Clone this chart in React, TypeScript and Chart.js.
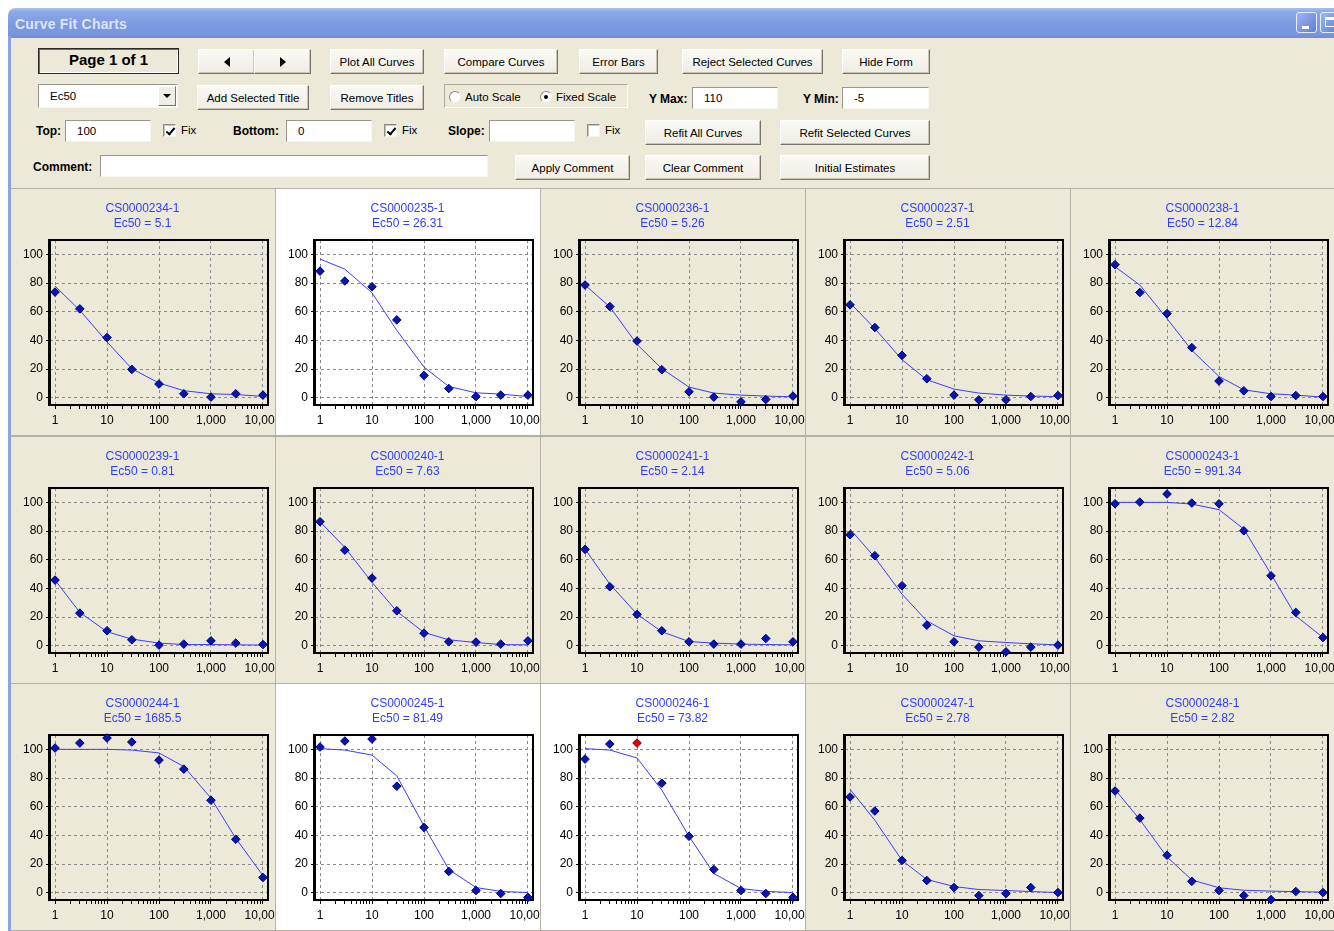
import React, { useEffect, useRef } from 'react';
import { Chart, registerables } from 'chart.js';
Chart.register(...registerables);

// ---------- data ----------
const concentrations = [1, 3, 10, 30, 100, 300, 1000, 3000, 10000];
const xMajorTicks = [1, 10, 100, 1000, 10000];
const xTickLabels = ['1', '10', '100', '1,000', '10,000'];
const xMinorTicks = [2, 3, 4, 5, 6, 7, 8, 9, 20, 30, 40, 50, 60, 70, 80, 90, 200, 300, 400, 500, 600, 700, 800, 900, 2000, 3000, 4000, 5000, 6000, 7000, 8000, 9000];
const yTicks = [0, 20, 40, 60, 80, 100];
const yMin = -5;
const yMax = 110;

const compoundIds = ['CS0000234-1', 'CS0000235-1', 'CS0000236-1', 'CS0000237-1', 'CS0000238-1', 'CS0000239-1', 'CS0000240-1', 'CS0000241-1', 'CS0000242-1', 'CS0000243-1', 'CS0000244-1', 'CS0000245-1', 'CS0000246-1', 'CS0000247-1', 'CS0000248-1'];
const ec50Values = ['5.1', '26.31', '5.26', '2.51', '12.84', '0.81', '7.63', '2.14', '5.06', '991.34', '1685.5', '81.49', '73.82', '2.78', '2.82'];
const selectedPanels = [1, 11, 12];

const obs234 = [73.7, 62, 42, 19.8, 9.6, 2.8, 0.5, 2.8, 1.9];
const fit234 = [77.9, 61, 39, 20.3, 10.3, 5, 2.8, 2.3, 1];
const obs235 = [88.3, 81.4, 77.4, 54.3, 15.6, 6.5, 0.9, 1.9, 1.9];
const fit235 = [96.7, 89.7, 73.2, 47, 21.4, 7.9, 3.5, 2.6, 0.9];
const obs236 = [78.6, 63.6, 39.6, 19.6, 4.2, 0.5, -2.8, -1.2, 1.2];
const fit236 = [78.6, 63.4, 37.3, 20.3, 7.5, 3.3, 1.9, 1.2, 0.7];
const obs237 = [64.8, 49, 29.6, 13.3, 1.9, -1.4, -1.4, 0.9, 1.6];
const fit237 = [66.2, 48.3, 26.6, 12.6, 6.1, 3.3, 1.9, 1.2, 0.9];
const obs238 = [92.8, 73.4, 58.7, 35, 11.7, 4.9, 0.9, 1.6, 0.9];
const fit238 = [91.4, 78.6, 55.2, 33.1, 14.9, 5.6, 2.8, 1.9, 0.5];
const obs239 = [45.8, 22.8, 10.5, 4.2, 0.5, 1.2, 3.5, 1.9, 0.9];
const fit239 = [45.8, 23.3, 9.8, 4.7, 1.9, 0.9, 0.9, 0.7, 0.5];
const obs240 = [86.5, 66.7, 47.2, 24.4, 8.8, 2.8, 2.6, 1.2, 3.5];
const fit240 = [86.5, 68.6, 44.2, 24, 9.3, 4.2, 2.3, 0.9, 0.7];
const obs241 = [67.2, 41.2, 21.9, 10.5, 2.8, 1.2, 1.2, 5.1, 2.8];
const fit241 = [67.4, 43, 22.1, 9.8, 3, 1.9, 1.2, 0.9, 0.7];
const obs242 = [77.4, 62.8, 41.9, 14.4, 2.8, -0.9, -4.2, -0.9, 0.5];
const fit242 = [81.4, 61.6, 36, 17.4, 7, 3.5, 2.3, 1.4, 0.7];
const obs243 = [99, 100.2, 105.8, 99.5, 99, 80.2, 48.8, 23.3, 5.8];
const fit243 = [100, 100, 100, 98.8, 94.9, 81.4, 50, 20.9, 5.8];
const obs244 = [100.9, 104.4, 107.9, 105.1, 92.5, 86.2, 64.5, 37.3, 10.7];
const fit244 = [100, 100, 100, 99.5, 97.5, 88, 66, 38, 12];
const obs245 = [101.6, 105.8, 107.2, 74.3, 45.6, 14.9, 1.6, -0.5, -3.2];
const fit245 = [100.5, 99.5, 96, 81.5, 46.5, 16.3, 3.7, 1, 0.2];
const obs246 = [93.2, 103.7, 104.4, 76.4, 39.4, 16.3, 1.6, -0.5, -3.2];
const fit246 = [100.5, 99.5, 94, 71.6, 39.4, 13.5, 3, 1, 0.2];
const obs247 = [66.8, 57, 22.6, 8.6, 3.7, -1.9, -0.5, 3.7, 0.2];
const fit247 = [72.2, 50.6, 22.6, 9.3, 4.4, 2.3, 1.6, 0.9, 0.2];
const obs248 = [71, 52.1, 26.2, 8, 1.6, -1.9, -4.7, 0.9, 0.2];
const fit248 = [72, 51, 25, 9, 3.5, 1.8, 1.2, 0.8, 0.5];
const rejected246 = [2];

const observedSeries = [obs234, obs235, obs236, obs237, obs238, obs239, obs240, obs241, obs242, obs243, obs244, obs245, obs246, obs247, obs248];
const fittedSeries = [fit234, fit235, fit236, fit237, fit238, fit239, fit240, fit241, fit242, fit243, fit244, fit245, fit246, fit247, fit248];
const rejectedPoints: number[][] = [[], [], [], [], [], [], [], [], [], [], [], [], rejected246, [], []];

// ---------- style ----------
const BEIGE = '#ECE9D8';
const UI_FONT = '"Liberation Sans", Arial, sans-serif';
const PANEL_W = 265;
const PANEL_H = 247;
const CANVAS_W = 300;
const PLOT_LEFT = 40;
const PLOT_RIGHT = 258;
const PAD_LEFT = 7;

const framePlugin = {
  id: 'plotFrame',
  beforeDatasetsDraw(chart: any) {
    const { ctx, chartArea: a } = chart;
    ctx.save();
    ctx.strokeStyle = '#000';
    ctx.lineWidth = 2;
    ctx.strokeRect(a.left, a.top, a.right - a.left, a.bottom - a.top);
    ctx.lineWidth = 3;
    ctx.beginPath();
    ctx.moveTo(a.left - 0.5, a.top - 1);
    ctx.lineTo(a.left - 0.5, a.bottom + 1);
    ctx.stroke();
    ctx.restore();
  },
};

function buildConfig(i: number): any {
  const obs = observedSeries[i];
  const fit = fittedSeries[i];
  const rej = rejectedPoints[i];
  const tickFont = { family: UI_FONT, size: 12 };
  return {
    type: 'scatter',
    data: {
      datasets: [
        {
          type: 'scatter',
          data: concentrations.map((x, k) => ({ x, y: obs[k] })),
          pointStyle: 'rectRot',
          pointRadius: 4.3,
          pointBackgroundColor: obs.map((_, k) => (rej.includes(k) ? '#E80000' : '#0A14B4')),
          pointBorderColor: obs.map((_, k) => (rej.includes(k) ? '#700000' : '#00006E')),
          pointBorderWidth: 1,
          clip: false,
          order: 1,
        },
        {
          type: 'line',
          data: concentrations.map((x, k) => ({ x, y: fit[k] })),
          borderColor: '#3B3BFF',
          borderWidth: 1,
          pointRadius: 0,
          tension: 0,
          fill: false,
          order: 2,
        },
      ],
    },
    options: {
      animation: false,
      responsive: false,
      events: [],
      layout: { padding: { left: PAD_LEFT, right: CANVAS_W - PLOT_RIGHT, top: 0, bottom: 0 } },
      plugins: {
        legend: { display: false },
        tooltip: { enabled: false },
        title: {
          display: true,
          text: [compoundIds[i], 'Ec50 = ' + ec50Values[i]],
          color: '#2F3DFF',
          font: { family: UI_FONT, size: 12, weight: 'normal', lineHeight: 1.25 },
          padding: { top: 13, bottom: 9 },
        },
      },
      scales: {
        x: {
          type: 'logarithmic',
          min: 0.8,
          max: 12500,
          afterBuildTicks: (s: any) => {
            s.ticks = [...xMajorTicks, ...xMinorTicks].sort((a, b) => a - b).map((v) => ({ value: v }));
          },
          afterFit: (s: any) => {
            s.height = 30;
          },
          ticks: {
            autoSkip: false,
            maxRotation: 0,
            minRotation: 0,
            padding: 4,
            color: '#000',
            font: tickFont,
            callback: (v: any) => {
              const k = xMajorTicks.indexOf(Number(v));
              return k >= 0 ? xTickLabels[k] : '';
            },
          },
          grid: {
            color: (c: any) => (c.tick && xMajorTicks.includes(c.tick.value) ? '#8A8A8A' : 'rgba(0,0,0,0)'),
            tickColor: '#000',
            tickLength: 4,
            lineWidth: 1,
          },
          border: { display: false, dash: [3, 3] },
        },
        y: {
          min: yMin,
          max: yMax,
          afterBuildTicks: (s: any) => {
            s.ticks = yTicks.map((v) => ({ value: v }));
          },
          afterFit: (s: any) => {
            s.width = PLOT_LEFT - PAD_LEFT;
          },
          ticks: { padding: 3, color: '#000', font: tickFont },
          grid: { color: '#8A8A8A', tickColor: '#000', tickLength: 4, lineWidth: 1 },
          border: { display: false, dash: [3, 3] },
        },
      },
    },
    plugins: [framePlugin],
  };
}

function CurvePanel({ index, left, top }: { index: number; left: number; top: number }) {
  const ref = useRef<HTMLCanvasElement>(null);
  useEffect(() => {
    const chart = new Chart(ref.current as HTMLCanvasElement, buildConfig(index));
    return () => chart.destroy();
  }, [index]);
  const selected = selectedPanels.includes(index);
  return (
    <div
      style={{
        position: 'absolute',
        left,
        top,
        width: PANEL_W + 1,
        height: PANEL_H + 1,
        boxSizing: 'border-box',
        border: '1px solid #B4B1A4',
        background: selected ? '#FFFFFF' : BEIGE,
        overflow: 'hidden',
      }}
    >
      <canvas ref={ref} width={CANVAS_W} height={PANEL_H} style={{ position: 'absolute', left: -1, top: -1 }} />
    </div>
  );
}

// ---------- XP-ish form controls ----------
function Button({ x, y, w, h = 25, children }: any) {
  return (
    <div
      style={{
        position: 'absolute',
        left: x,
        top: y,
        width: w,
        height: h,
        boxSizing: 'border-box',
        background: 'linear-gradient(#FAF9F4, #EFEDE4)',
        border: '1px solid',
        borderColor: '#FFFFFF #75736A #75736A #FFFFFF',
        boxShadow: 'inset -1px -1px 0 #C8C5B6',
        display: 'flex',
        alignItems: 'center',
        justifyContent: 'center',
        font: `11.5px ${UI_FONT}`,
        color: '#000',
        whiteSpace: 'nowrap',
      }}
    >
      {children}
    </div>
  );
}

function TextBox({ x, y, w, h = 22, value = '' }: any) {
  return (
    <div
      style={{
        position: 'absolute',
        left: x,
        top: y,
        width: w,
        height: h,
        boxSizing: 'border-box',
        background: '#FFFFFF',
        border: '1px solid',
        borderColor: '#9A978A #F6F5F0 #F6F5F0 #9A978A',
        display: 'flex',
        alignItems: 'center',
        paddingLeft: 11,
        font: `11.5px ${UI_FONT}`,
        color: '#000',
      }}
    >
      {value}
    </div>
  );
}

function Label({ x, y, children }: any) {
  return (
    <div
      style={{
        position: 'absolute',
        left: x,
        top: y,
        font: `bold 12px ${UI_FONT}`,
        color: '#000',
        whiteSpace: 'nowrap',
        lineHeight: '14px',
      }}
    >
      {children}
    </div>
  );
}

function CheckBox({ x, y, checked, label }: any) {
  return (
    <>
      <div
        style={{
          position: 'absolute',
          left: x,
          top: y,
          width: 13,
          height: 13,
          boxSizing: 'border-box',
          background: '#FFFFFF',
          border: '1px solid',
          borderColor: '#8F8C80 #F4F3EE #F4F3EE #8F8C80',
          boxShadow: 'inset 1px 1px 0 #C9C6B8',
        }}
      >
        {checked && (
          <div
            style={{
              position: 'absolute',
              left: 3.5,
              top: 0.5,
              width: 3,
              height: 7,
              borderRight: '2px solid #000',
              borderBottom: '2px solid #000',
              transform: 'rotate(40deg)',
            }}
          />
        )}
      </div>
      <div style={{ position: 'absolute', left: x + 18, top: y - 1, font: `11.5px ${UI_FONT}`, color: '#000', lineHeight: '14px' }}>{label}</div>
    </>
  );
}

function Radio({ x, y, checked, label }: any) {
  return (
    <>
      <div
        style={{
          position: 'absolute',
          left: x,
          top: y,
          width: 12,
          height: 12,
          boxSizing: 'border-box',
          borderRadius: '50%',
          background: '#FFFFFF',
          border: '1px solid',
          borderColor: '#8F8C80 #F4F3EE #F4F3EE #8F8C80',
        }}
      >
        {checked && (
          <div style={{ position: 'absolute', left: 3, top: 3, width: 4, height: 4, borderRadius: '50%', background: '#000' }} />
        )}
      </div>
      <div style={{ position: 'absolute', left: x + 16, top: y - 1, font: `11.5px ${UI_FONT}`, color: '#000', lineHeight: '14px' }}>{label}</div>
    </>
  );
}

function Triangle({ dir }: { dir: 'left' | 'right' | 'down' }) {
  const s: any = { width: 0, height: 0, borderStyle: 'solid' };
  if (dir === 'left') Object.assign(s, { borderWidth: '5px 6px 5px 0', borderColor: 'transparent #000 transparent transparent' });
  if (dir === 'right') Object.assign(s, { borderWidth: '5px 0 5px 6px', borderColor: 'transparent transparent transparent #000' });
  if (dir === 'down') Object.assign(s, { borderWidth: '4px 4px 0 4px', borderColor: '#000 transparent transparent transparent' });
  return <div style={s} />;
}

function Form() {
  return (
    <>
      {/* Row A */}
      <div
        style={{
          position: 'absolute',
          left: 38,
          top: 48,
          width: 141,
          height: 26,
          boxSizing: 'border-box',
          border: '1px solid #2A2A2A',
          boxShadow: 'inset 1px 1px 0 #6E6C64, inset -1px -1px 0 #FFFFFF',
          display: 'flex',
          alignItems: 'center',
          justifyContent: 'center',
          font: `bold 15px ${UI_FONT}`,
          color: '#000',
          paddingBottom: 4,
        }}
      >
        Page 1 of 1
      </div>
      <Button x={198} y={49} w={57}>
        <Triangle dir="left" />
      </Button>
      <Button x={254} y={49} w={57}>
        <Triangle dir="right" />
      </Button>
      <Button x={330} y={49} w={94}>Plot All Curves</Button>
      <Button x={444} y={49} w={114}>Compare Curves</Button>
      <Button x={579} y={49} w={79}>Error Bars</Button>
      <Button x={682} y={49} w={141}>Reject Selected Curves</Button>
      <Button x={842} y={49} w={88}>Hide Form</Button>

      {/* Row B */}
      <div
        style={{
          position: 'absolute',
          left: 38,
          top: 84,
          width: 140,
          height: 24,
          boxSizing: 'border-box',
          background: '#FFFFFF',
          border: '1px solid',
          borderColor: '#9A978A #F6F5F0 #F6F5F0 #9A978A',
          font: `11.5px ${UI_FONT}`,
          display: 'flex',
          alignItems: 'center',
          paddingLeft: 11,
        }}
      >
        Ec50
        <div
          style={{
            position: 'absolute',
            right: 1,
            top: 1,
            width: 18,
            height: 20,
            boxSizing: 'border-box',
            background: '#EFEDE4',
            border: '1px solid',
            borderColor: '#FFFFFF #75736A #75736A #FFFFFF',
            display: 'flex',
            alignItems: 'center',
            justifyContent: 'center',
          }}
        >
          <Triangle dir="down" />
        </div>
      </div>
      <Button x={197} y={85} w={112}>Add Selected Title</Button>
      <Button x={330} y={85} w={94}>Remove Titles</Button>
      <div
        style={{
          position: 'absolute',
          left: 444,
          top: 84,
          width: 184,
          height: 24,
          boxSizing: 'border-box',
          border: '1px solid',
          borderColor: '#ACA899 #FFFFFF #FFFFFF #ACA899',
        }}
      />
      <Radio x={449} y={91} checked={false} label="Auto Scale" />
      <Radio x={540} y={91} checked={true} label="Fixed Scale" />
      <Label x={649} y={92}>Y Max:</Label>
      <TextBox x={692} y={87} w={86} value="110" />
      <Label x={803} y={92}>Y Min:</Label>
      <TextBox x={842} y={87} w={87} value="-5" />

      {/* Row C */}
      <Label x={36} y={124}>Top:</Label>
      <TextBox x={65} y={120} w={86} value="100" />
      <CheckBox x={163} y={124} checked={true} label="Fix" />
      <Label x={233} y={124}>Bottom:</Label>
      <TextBox x={286} y={120} w={86} value="0" />
      <CheckBox x={384} y={124} checked={true} label="Fix" />
      <Label x={448} y={124}>Slope:</Label>
      <TextBox x={489} y={120} w={86} value="" />
      <CheckBox x={587} y={124} checked={false} label="Fix" />
      <Button x={645} y={120} w={116}>Refit All Curves</Button>
      <Button x={780} y={120} w={150}>Refit Selected Curves</Button>

      {/* Row D */}
      <Label x={33} y={160}>Comment:</Label>
      <TextBox x={100} y={155} w={388} value="" />
      <Button x={515} y={155} w={115}>Apply Comment</Button>
      <Button x={645} y={155} w={116}>Clear Comment</Button>
      <Button x={780} y={155} w={150}>Initial Estimates</Button>
    </>
  );
}

export default function App() {
  return (
    <div style={{ position: 'fixed', left: 0, top: 0, width: 1334, height: 931, overflow: 'hidden', background: '#FFFFFF' }}>
      {/* window body */}
      <div style={{ position: 'absolute', left: 8, top: 8, width: 1340, height: 940, background: BEIGE, borderTopLeftRadius: 8 }} />
      {/* title bar */}
      <div
        style={{
          position: 'absolute',
          left: 8,
          top: 8,
          width: 1340,
          height: 30,
          borderTopLeftRadius: 8,
          background: 'linear-gradient(#A9C0F0 0%, #8CA8E8 12%, #7E9CE2 50%, #7895DE 88%, #6F8CD8 100%)',
        }}
      />
      <div
        style={{
          position: 'absolute',
          left: 15,
          top: 15,
          font: `bold 14px ${UI_FONT}`,
          color: '#DCE5F9',
          lineHeight: '18px',
          letterSpacing: 0.2,
        }}
      >
        Curve Fit Charts
      </div>
      <div
        style={{
          position: 'absolute',
          left: 1296,
          top: 12,
          width: 21,
          height: 21,
          boxSizing: 'border-box',
          borderRadius: 3,
          border: '1px solid #E6ECFA',
          background: 'linear-gradient(135deg, #9DB6F0, #5D7FD6)',
        }}
      >
        <div style={{ position: 'absolute', left: 5, top: 13, width: 7, height: 3, background: '#FFFFFF' }} />
      </div>
      <div
        style={{
          position: 'absolute',
          left: 1320,
          top: 12,
          width: 21,
          height: 21,
          boxSizing: 'border-box',
          borderRadius: 3,
          border: '1px solid #E6ECFA',
          background: 'linear-gradient(135deg, #9DB6F0, #5D7FD6)',
        }}
      >
        <div style={{ position: 'absolute', left: 4, top: 4, width: 11, height: 10, boxSizing: 'border-box', border: '1px solid #FFFFFF', borderTopWidth: 3 }} />
      </div>

      <Form />

      {/* chart panels */}
      {compoundIds.map((_, i) => {
        const col = i % 5;
        const row = Math.floor(i / 5);
        return <CurvePanel key={i} index={i} left={10 + col * PANEL_W} top={188 + Math.round(row * 247.5)} />;
      })}

      {/* left window frame */}
      <div style={{ position: 'absolute', left: 8, top: 36, width: 3, height: 900, background: '#8AA4E4' }} />
    </div>
  );
}
